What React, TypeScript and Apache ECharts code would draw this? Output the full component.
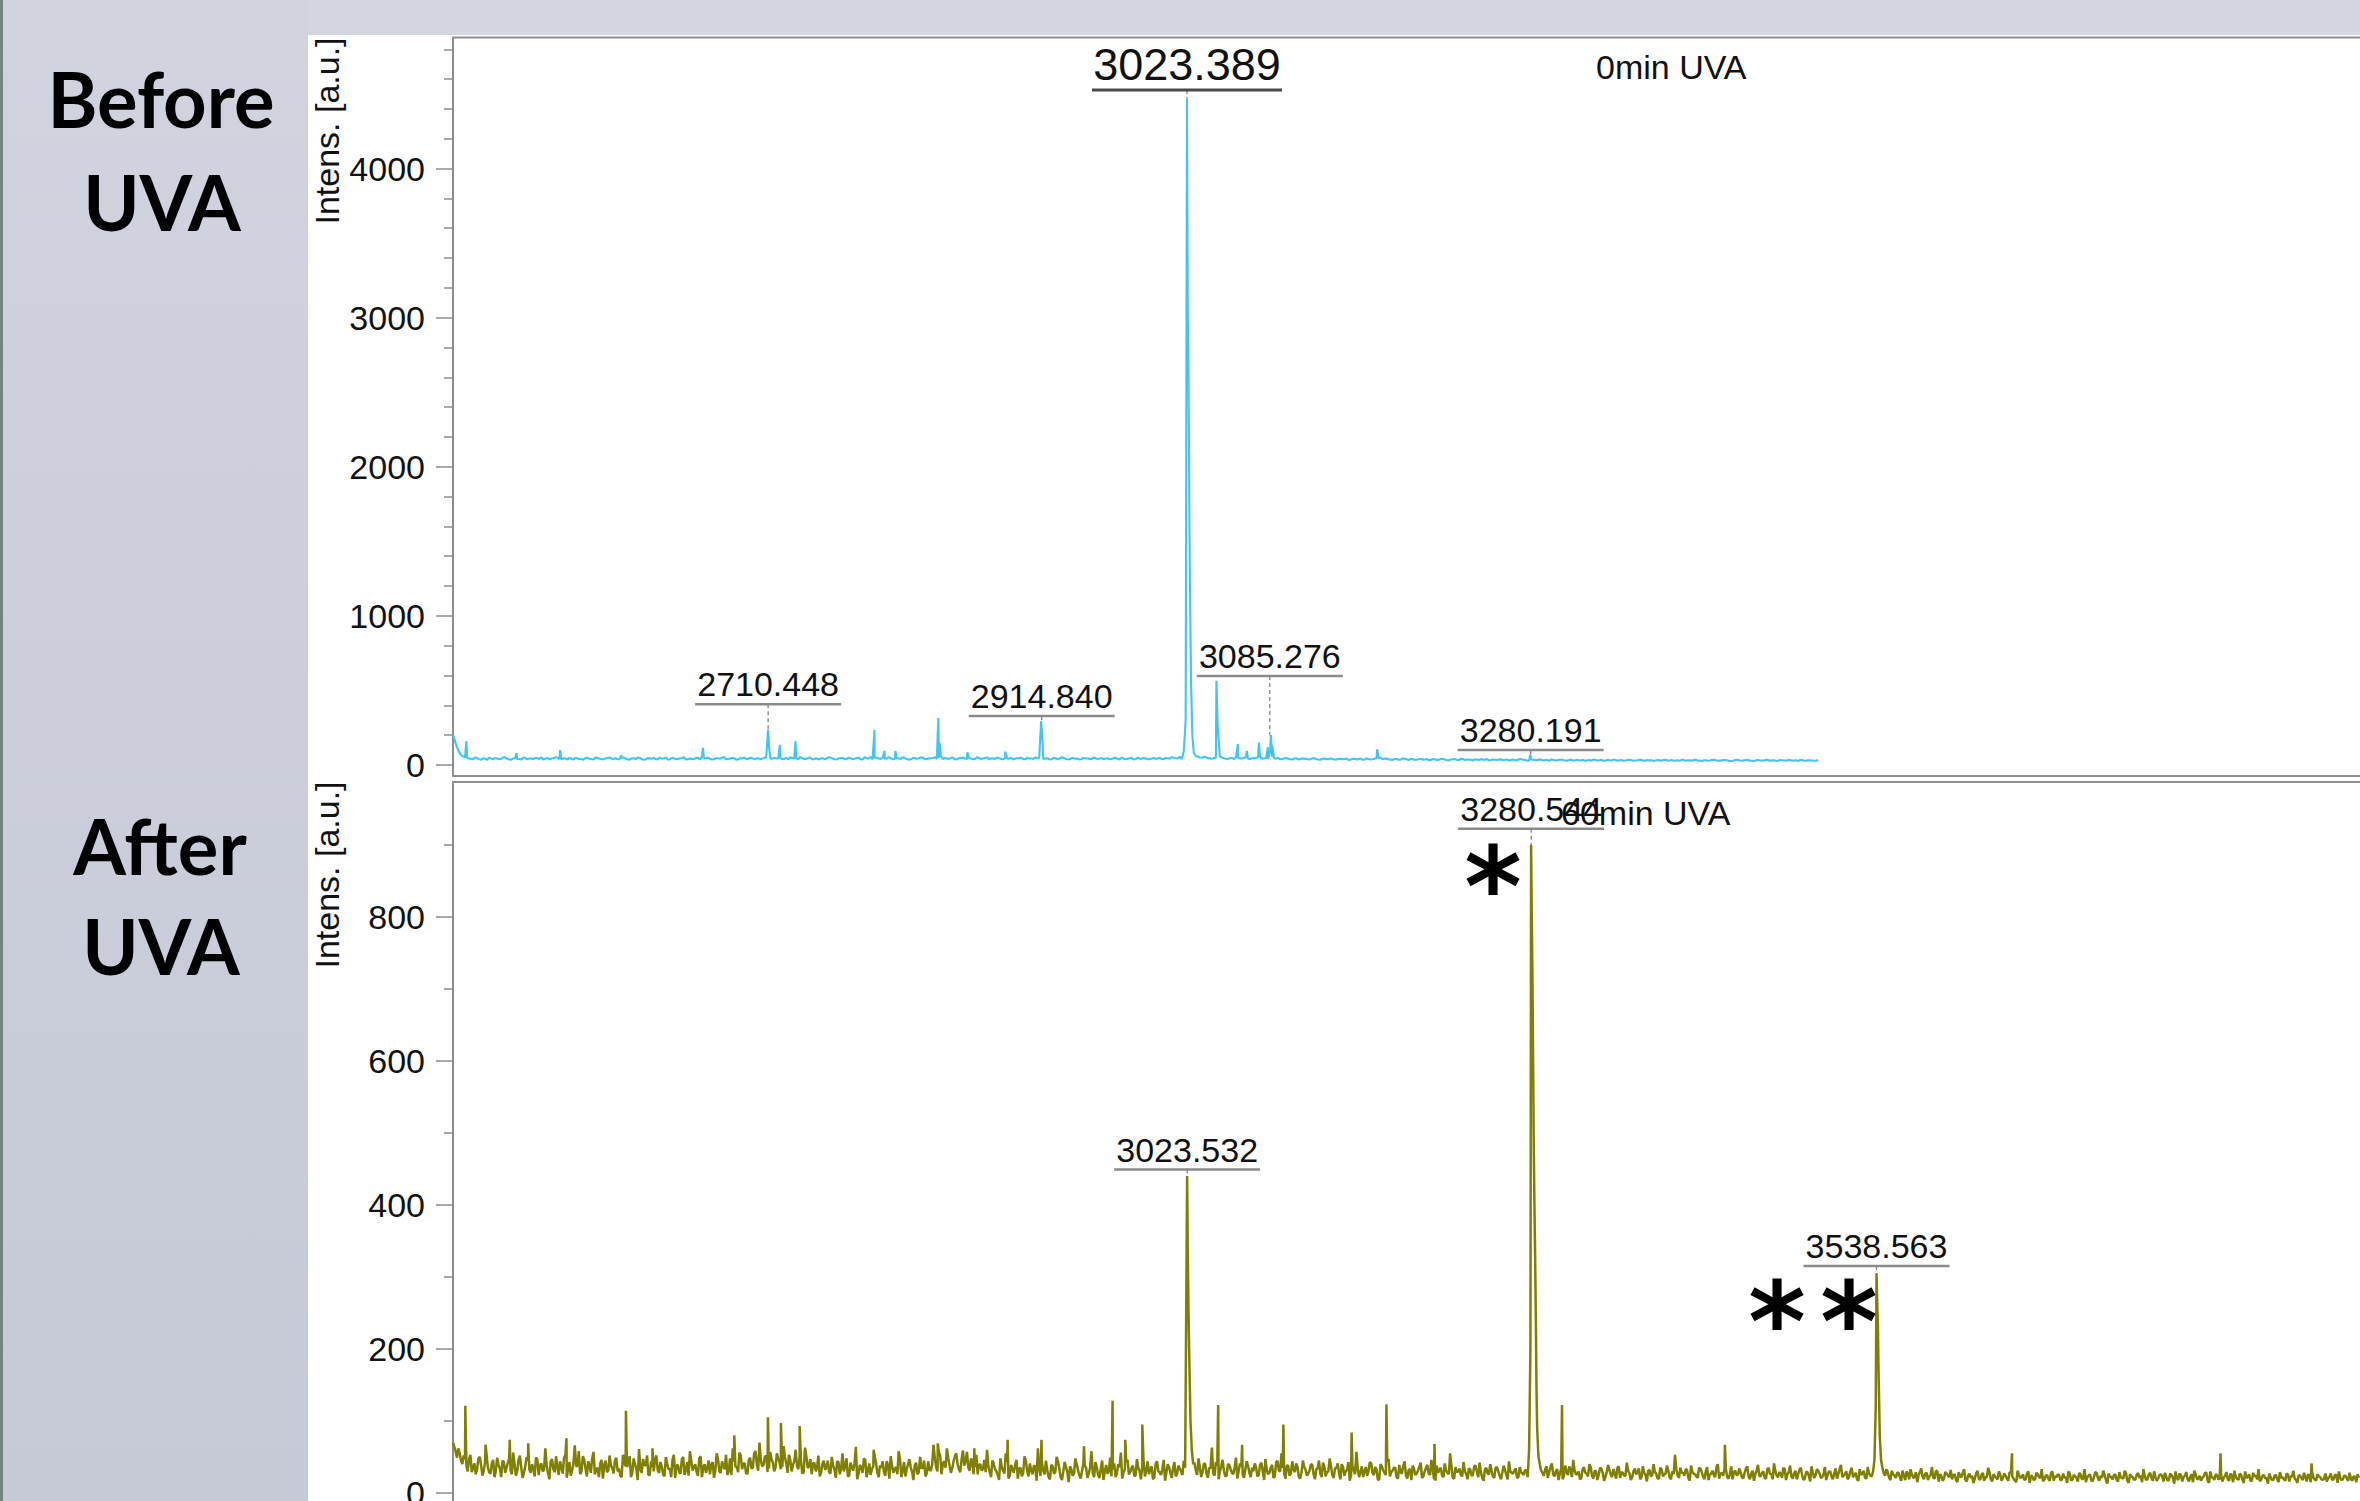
import React, { useEffect, useRef } from "react";
import * as echarts from "echarts";

// ---- m/z axis ----
const MZ_MIN = 2475;
const MZ_MAX = 4000;

// ---- Top spectrum (0 min UVA): two interleaved sample rows ----
const TOP_PROFILE_A_START = 2475;
const TOP_PROFILE_B_START = 2476.5;
const TOP_PROFILE_STEP = 3;
const TOP_PROFILE_A = [
  200,118,66,50,44,39,47,36,42,49,38,44,40,51,37,45,41,36,48,43,
  39,46,52,41,37,45,50,38,43,47,36,44,40,49,42,37,46,39,44,50,
  41,38,47,43,36,45,49,40,37,44,48,39,42,51,38,45,41,47,37,44,
  40,48,54,46,41,38,45,50,39,43,47,37,44,41,49,38,46,42,52,45,
  48,44,39,47,52,43,38,45,41,49,40,37,46,42,50,39,44,47,38,45,
  42,49,36,44,55,48,43,50,41,46,39,45,51,40,37,47,43,49,41,45,
  52,47,40,44,48,38,46,50,41,44,39,47,43,52,45,40,46,38,44,49,
  41,45,39,48,43,50,47,40,44,37,46,42,49,38,45,41,36,47,43,39,
  46,42,38,45,40,48,37,44,41,47,39,43,46,38,44,41,48,40,45,52,
  45,55,90,3000,350,60,50,55,46,42,48,58,45,40,47,52,44,49,42,46,
  48,52,45,40,55,43,38,44,41,36,45,39,42,37,44,40,35,43,38,41,
  36,42,39,34,41,37,44,35,40,38,45,50,42,37,34,40,36,42,33,39,
  35,41,37,32,39,34,40,36,31,38,35,41,33,37,30,36,39,34,31,37,
  33,38,35,30,36,32,39,34,29,35,31,37,33,28,35,31,36,30,34,29,
  35,31,27,33,37,30,34,28,32,36,29,33,30,35,28,32,34,29,31,27,
  33,29,35,30,27,32,36,28,31,34,29,26,32,30,35,28,31,33,27,30,
  34,28,32,29,26,33,30,35,28,31,27,32,29,34,30,27,33,29,31,28,32,
];
const TOP_PROFILE_B = [
  160,88,58,47,41,50,38,45,35,43,47,39,52,41,36,46,40,49,38,44,
  47,40,36,48,43,51,39,45,37,42,49,41,35,46,39,50,43,38,47,42,
  45,39,51,37,44,40,48,35,46,42,38,50,43,36,47,40,44,52,39,41,
  46,38,43,49,37,45,41,53,40,47,36,44,50,39,46,42,38,48,220,41,
  43,50,41,38,46,44,55,40,48,37,45,42,39,51,44,36,47,41,49,40,
  46,39,52,43,37,48,41,45,53,38,44,40,48,36,46,42,50,39,44,47,
  43,60,46,41,50,37,45,43,48,39,52,41,46,38,44,50,40,47,42,37,
  45,49,38,44,41,47,280,43,38,46,40,51,42,37,48,44,39,45,41,50,
  40,47,43,38,46,42,50,39,45,37,48,41,44,38,47,43,40,46,42,48,
  44,40,600,1300,80,57,48,52,44,47,230,50,42,46,39,48,43,51,40,45,
  50,41,47,90,44,47,40,46,39,43,37,44,41,38,45,36,42,39,44,37,
  40,38,43,35,42,39,36,44,37,41,47,39,44,36,40,35,43,38,41,35,
  38,36,40,34,38,35,41,33,37,39,32,40,36,35,38,33,37,40,33,35,
  36,31,37,34,32,38,35,30,37,33,36,29,34,37,31,35,33,29,36,32,
  30,34,32,29,35,31,28,34,30,33,31,28,34,32,30,35,29,33,31,30,
  31,33,29,34,30,28,33,31,29,35,30,32,28,34,31,29,33,30,27,33,
  30,31,34,28,32,30,29,33,31,28,34,30,32,29,31,33,28,31,30,29,
];
const TOP_PEAKS = [
  [2485, 160], [2522.4, 80], [2555, 100], [2600.8, 65], [2661.8, 115],
  [2710.4, 235], [2711.2, 120], [2719.2, 135], [2730.9, 160], [2789.9, 235],
  [2797.4, 95], [2805.6, 95], [2837.6, 315], [2838.6, 150], [2859.3, 85],
  [2887.6, 90], [2914.4, 295], [2915.4, 170], [3022.4, 300], [3023.4, 4470],
  [3024.4, 2780], [3025.4, 1420], [3026.4, 560], [3027.4, 200], [3045.4, 565],
  [3046.4, 250], [3061.4, 140], [3068.1, 95], [3077.1, 150], [3083.8, 120],
  [3086.1, 200], [3087.1, 130], [3165.5, 105], [3279.9, 70],
];
const TOP_Y_MIN = -74;
const TOP_Y_MAX = 4879;
const TOP_MAJOR_TICKS = [0, 1000, 2000, 3000, 4000];
const TOP_MINOR_TICKS = [200, 400, 600, 800, 1200, 1400, 1600, 1800, 2200, 2400, 2600, 2800, 3200, 3400, 3600, 3800, 4200, 4400, 4600, 4800];
const TOP_LABELS = [
  { text: "3023.389", mz: 3023.389, level: 4527, apex: 4470, big: true },
  { text: "2710.448", mz: 2710.448, level: 407, apex: 235, big: false },
  { text: "2914.840", mz: 2914.84, level: 329, apex: 295, big: false },
  { text: "3085.276", mz: 3085.276, level: 597, apex: 200, big: false },
  { text: "3280.191", mz: 3280.191, level: 100, apex: 70, big: false },
];

// ---- Bottom spectrum (60 min UVA): two interleaved sample rows ----
const BOT_PROFILE_A_START = 2475;
const BOT_PROFILE_B_START = 2476;
const BOT_PROFILE_STEP = 2;
const BOT_PROFILE_A = [
  70,58,62,45,52,38,47,29,41,33,50,24,44,36,27,46,31,39,22,43,
  35,48,26,40,30,52,21,37,45,28,34,49,25,41,32,38,19,47,29,36,
  44,27,53,33,24,42,37,58,30,46,23,39,48,26,35,41,20,45,31,38,
  27,49,34,22,43,36,51,29,40,18,33,47,38,25,44,30,52,28,37,23,
  41,34,46,21,39,27,50,32,24,45,36,29,48,22,40,35,26,43,31,47,
  28,38,53,30,25,44,37,56,33,41,27,49,35,58,31,45,39,52,34,47,
  30,55,42,36,50,28,46,39,60,33,44,29,51,37,26,42,35,23,40,32,
  45,27,38,21,43,34,30,48,24,36,41,19,39,28,46,31,25,37,42,22,
  35,29,44,20,38,33,26,47,31,23,40,36,18,42,29,34,45,27,32,39,
  48,30,52,41,35,49,28,44,55,33,47,38,57,31,43,36,26,40,34,29,
  37,22,41,30,18,36,27,43,24,33,39,20,35,28,45,23,31,38,17,34,
  42,26,32,19,37,29,44,22,30,36,15,33,27,40,24,31,38,21,35,28,
  43,25,34,18,39,30,23,41,27,36,20,33,46,29,38,24,35,19,42,31,
  26,37,22,44,29,33,17,40,28,35,23,38,30,45,300,200,60,42,25,36,
  29,40,21,34,27,43,19,37,31,24,39,28,35,20,41,26,33,38,22,30,
  36,25,42,18,32,28,39,23,45,30,35,20,38,27,33,41,22,29,36,24,
  31,39,19,34,27,42,23,30,37,21,35,28,40,24,32,17,38,26,33,29,
  22,36,30,41,25,33,19,37,28,44,23,31,35,20,29,38,24,32,18,34,
  27,36,21,30,39,25,33,17,28,35,22,31,26,37,20,29,34,23,30,19,
  33,25,38,22,29,17,35,26,31,21,36,24,28,32,19,30,27,34,22,29,
  25,31,60,800,400,90,40,28,33,21,36,26,30,18,34,24,29,37,22,31,
  26,19,33,28,23,36,20,30,25,34,17,29,32,22,27,35,21,28,24,31,
  18,30,26,34,22,28,16,32,25,29,20,35,23,27,31,19,26,33,21,28,
  24,32,17,29,26,21,34,23,30,18,27,25,36,20,28,33,22,26,19,31,
  25,29,20,34,23,27,17,31,24,28,21,33,26,19,30,22,27,35,18,29,
  23,27,19,32,25,20,29,16,28,24,31,21,26,18,30,23,27,20,33,22,
  26,19,30,22,28,17,25,31,20,27,23,45,270,80,35,24,29,18,26,21,
  28,17,24,30,19,26,22,15,29,23,27,18,25,21,31,16,24,20,27,22,
  19,26,15,23,28,18,24,21,14,27,20,25,17,22,29,16,23,19,26,21,
  24,17,28,20,15,25,22,18,27,14,23,19,26,21,16,24,20,28,17,22,
  25,18,21,14,27,19,23,16,26,20,15,24,18,22,28,17,21,25,13,23,
  19,26,16,22,20,27,14,23,18,25,21,15,24,19,28,17,22,20,26,16,
  23,18,25,13,21,27,16,24,19,22,15,26,20,17,23,28,14,21,18,25,
  20,16,24,19,27,15,22,18,25,14,21,26,17,23,19,16,24,20,13,22,
  18,25,15,21,19,27,16,23,20,14,24,18,22,26,15,21,17,23,19,20,
  16,22,18,25,14,21,19,24,17,20,23,15,21,
];
const BOT_PROFILE_B = [
  64,49,55,40,47,30,53,35,26,48,38,31,55,29,41,22,49,34,45,28,
  42,31,56,24,46,35,28,50,33,40,23,47,38,30,62,27,44,33,51,25,
  36,49,21,43,31,66,38,26,51,34,44,28,57,32,22,46,39,29,52,35,
  45,30,24,53,37,41,22,48,33,61,28,39,52,25,36,47,31,43,26,50,
  33,22,53,38,29,47,25,43,58,31,40,24,51,36,28,45,39,21,55,30,
  44,33,25,48,62,36,29,52,41,27,46,34,55,40,70,37,50,29,57,42,
  36,48,33,65,41,53,30,44,38,51,27,63,35,47,41,30,52,28,45,36,
  29,50,33,44,26,55,38,23,42,31,64,27,35,48,22,41,33,52,29,38,
  44,24,39,51,28,36,58,22,43,33,47,29,38,26,50,35,23,44,31,67,
  36,57,26,44,62,38,34,51,40,29,59,45,35,48,26,53,39,31,46,60,
  29,45,33,25,48,31,55,20,39,28,46,34,23,51,30,41,26,37,62,24,
  31,45,22,39,27,50,34,18,43,29,37,24,48,32,20,41,35,27,58,22,
  36,21,45,30,27,49,33,22,40,56,29,43,26,35,24,47,30,38,23,44,
  33,19,41,30,25,46,28,36,21,43,27,34,25,35,330,100,40,31,48,22,
  41,27,35,63,24,38,30,46,23,40,33,26,49,30,37,21,44,28,35,41,
  23,39,30,47,26,35,21,42,31,55,27,38,24,44,29,36,20,45,32,27,
  40,26,33,45,22,37,29,48,25,34,41,19,36,30,43,25,31,57,22,37,
  30,24,43,28,36,18,40,31,25,47,29,35,22,39,27,44,20,33,38,25,
  31,42,23,35,27,46,19,38,32,24,41,28,55,21,36,30,25,43,27,34,
  24,37,29,42,21,33,27,40,23,35,30,19,38,25,44,28,31,21,36,27,
  32,22,200,600,250,50,31,24,37,29,41,23,33,27,19,38,25,32,46,26,
  30,21,36,27,40,24,31,18,35,28,22,39,26,33,20,37,29,24,42,27,
  22,34,29,19,37,25,31,23,40,27,20,33,26,38,22,30,53,24,35,28,
  33,21,38,27,23,35,29,19,36,25,31,22,40,27,24,34,20,37,29,25,
  34,22,28,37,19,31,26,39,23,30,20,35,27,41,24,29,21,33,26,38,
  20,31,26,35,18,29,24,37,21,33,27,22,36,25,30,19,34,26,39,24,
  30,22,35,25,19,33,27,21,36,24,30,120,180,45,27,33,21,31,24,28,
  22,31,18,27,33,21,29,25,34,19,28,23,36,20,30,26,17,29,24,32,
  25,18,29,22,33,16,27,24,20,31,18,28,22,35,19,26,21,30,17,27,
  20,29,23,17,31,21,26,19,30,24,18,28,22,33,19,25,17,30,23,26,
  18,27,22,30,17,25,21,28,19,33,22,26,16,29,21,24,31,18,27,22,
  25,18,29,21,31,17,26,22,19,28,24,33,18,26,21,30,17,25,23,28,
  17,27,21,30,18,25,22,29,16,26,31,19,24,21,28,17,30,22,26,19,
  26,21,29,17,24,31,20,27,18,30,22,17,28,24,33,19,25,21,27,18,
  24,19,29,22,17,26,23,31,18,25,21,28,16,24,30,19,26,22,18,27,
  21,27,19,25,30,18,24,20,28,17,23,26,
];
const BOT_PEAKS = [
  [2484.2, 121], [2499.3, 67], [2517.4, 74], [2531.2, 69], [2559.8, 76],
  [2604.2, 114], [2624, 62], [2685.2, 80], [2710.3, 105], [2720, 97],
  [2734, 93], [2789.3, 60], [2837.2, 69], [2864.5, 62], [2889.4, 74],
  [2914.7, 74], [2946.4, 65], [2967.8, 128], [2977.3, 74], [2990, 95],
  [3023.5, 440], [3024.5, 255], [3025.5, 150], [3046.7, 122], [3064.6, 67],
  [3095.4, 95], [3146.4, 84], [3172.4, 123], [3208.3, 68], [3280.5, 900],
  [3281.5, 720], [3282.5, 480], [3283.5, 330], [3284.5, 150], [3303.6, 122],
  [3425.3, 67], [3538.6, 305], [3539.6, 235], [3540.6, 120], [3639.8, 55],
  [3795.6, 55], [3863.6, 41],
];
const BOT_Y_MIN = -30;
const BOT_Y_MAX = 987;
const BOT_MAJOR_TICKS = [0, 200, 400, 600, 800];
const BOT_MINOR_TICKS = [100, 300, 500, 700, 900];
const BOT_LABELS = [
  { text: "3023.532", mz: 3023.532, level: 449, apex: 440, big: false },
  { text: "3280.544", mz: 3280.544, level: 922, apex: 900, big: false },
  { text: "3538.563", mz: 3538.563, level: 315, apex: 305, big: false },
];

const W = 2360;
const H = 1501;
const SANS = '"Liberation Sans", Arial, sans-serif';
const AXIS_GRAY = "#8e8e8e";

function buildSpectrum(rows: [number, number, number[]][], peaks: number[][]) {
  const pts: number[][] = [];
  rows.forEach(([start, step, values]) => values.forEach((v, i) => pts.push([start + i * step, v])));
  peaks.forEach((p) => pts.push([p[0], p[1]]));
  pts.sort((a, b) => a[0] - b[0]);
  return pts;
}

function yAxes(gridIndex: number, min: number, max: number, major: number[], minor: number[]) {
  return [
    {
      type: "value", gridIndex, min, max, position: "left",
      axisLine: { show: false }, splitLine: { show: false },
      axisTick: { show: true, customValues: major, length: 17, lineStyle: { color: AXIS_GRAY, width: 1.5 } },
      axisLabel: {
        show: true, customValues: major, margin: 28, fontSize: 34, fontFamily: SANS, color: "#111",
        formatter: (v: number) => String(v),
      },
    },
    {
      type: "value", gridIndex, min, max, position: "left",
      axisLine: { show: false }, splitLine: { show: false },
      axisTick: { show: true, customValues: minor, length: 9, lineStyle: { color: AXIS_GRAY, width: 1.5 } },
      axisLabel: { show: false },
    },
  ];
}

function buildOption() {
  const gridBase = {
    left: 453, width: 2041.1, show: true, borderColor: AXIS_GRAY, borderWidth: 2,
    backgroundColor: "transparent", containLabel: false, outerBoundsMode: "none",
  };
  return {
    animation: false,
    backgroundColor: "#ffffff",
    grid: [
      { ...gridBase, top: 37.5, height: 738.5 },
      { ...gridBase, top: 782, height: 732.6 },
    ],
    xAxis: [
      { type: "value", gridIndex: 0, min: MZ_MIN, max: MZ_MAX, show: false },
      { type: "value", gridIndex: 1, min: MZ_MIN, max: MZ_MAX, show: false },
    ],
    yAxis: [
      ...yAxes(0, TOP_Y_MIN, TOP_Y_MAX, TOP_MAJOR_TICKS, TOP_MINOR_TICKS),
      ...yAxes(1, BOT_Y_MIN, BOT_Y_MAX, BOT_MAJOR_TICKS, BOT_MINOR_TICKS),
    ],
    series: [
      {
        type: "line", xAxisIndex: 0, yAxisIndex: 0, silent: true,
        data: buildSpectrum(
          [[TOP_PROFILE_A_START, TOP_PROFILE_STEP, TOP_PROFILE_A], [TOP_PROFILE_B_START, TOP_PROFILE_STEP, TOP_PROFILE_B]],
          TOP_PEAKS,
        ),
        showSymbol: false, symbol: "none",
        lineStyle: { color: "#40c4f4", width: 2.1 },
      },
      {
        type: "line", xAxisIndex: 1, yAxisIndex: 2, silent: true,
        data: buildSpectrum(
          [[BOT_PROFILE_A_START, BOT_PROFILE_STEP, BOT_PROFILE_A], [BOT_PROFILE_B_START, BOT_PROFILE_STEP, BOT_PROFILE_B]],
          BOT_PEAKS,
        ),
        showSymbol: false, symbol: "none",
        lineStyle: { color: "#808000", width: 2.5 },
      },
    ],
  };
}

function textEl(text: string, x: number, y: number, size: number, opts: any = {}) {
  return {
    type: "text", x, y, z: 100, silent: true,
    rotation: opts.rotation || 0,
    style: {
      text, fill: opts.fill || "#111",
      fontSize: size, fontFamily: opts.family || SANS, fontWeight: opts.weight || "normal",
      align: opts.align || "center", verticalAlign: "middle",
    },
  };
}

function lineEl(x1: number, y1: number, x2: number, y2: number, stroke: string, width: number, dash?: number[]) {
  return {
    type: "line", z: 90, silent: true,
    shape: { x1, y1, x2, y2 },
    style: { stroke, lineWidth: width, lineDash: dash || null },
  };
}

function buildGraphics(chart: any) {
  const els: any[] = [];
  els.push({ type: "rect", z: 1, silent: true, shape: { x: 0, y: 0, width: W, height: 35 }, style: { fill: "#d3d6df" } });
  els.push({
    type: "rect", z: 2, silent: true, shape: { x: 0, y: 0, width: 308, height: H },
    style: { fill: new echarts.graphic.LinearGradient(0, 0, 0, 1, [
      { offset: 0, color: "#d1d4df" }, { offset: 1, color: "#c6c9d6" },
    ]) },
  });
  els.push({ type: "rect", z: 3, silent: true, shape: { x: 0, y: 0, width: 3, height: H }, style: { fill: "#74867a" } });

  const bold = { family: '"Lato", "Open Sans", sans-serif', weight: "bold", fill: "#000" };
  els.push(textEl("Before", 161, 98, 76, bold));
  els.push(textEl("UVA", 162, 201, 76, bold));
  els.push(textEl("After", 160, 845, 76, bold));
  els.push(textEl("UVA", 161, 945, 76, bold));

  els.push(textEl("Intens. [a.u.]", 327, 131, 34, { rotation: Math.PI / 2 }));
  els.push(textEl("Intens. [a.u.]", 327, 875, 34, { rotation: Math.PI / 2 }));

  els.push(textEl("0min UVA", 1596, 67, 34, { align: "left" }));
  els.push(textEl("60min UVA", 1561, 813, 34, { align: "left" }));

  const addLabels = (seriesIndex: number, labels: any[]) => {
    labels.forEach((L) => {
      const u = chart.convertToPixel({ seriesIndex }, [L.mz, L.level]);
      const a = chart.convertToPixel({ seriesIndex }, [L.mz, L.apex]);
      const half = L.big ? 95 : 73;
      if (a[1] > u[1] + 2) els.push(lineEl(u[0], u[1], u[0], a[1], "#7a7a7a", 1.2, [4, 3]));
      els.push(lineEl(u[0] - half, u[1], u[0] + half, u[1], L.big ? "#4a4a4a" : "#8a8a8a", L.big ? 3 : 2.5));
      els.push(textEl(L.text, u[0], u[1] - (L.big ? 25 : 20), L.big ? 45 : 34, { fill: "#111" }));
    });
  };
  addLabels(0, TOP_LABELS);
  addLabels(1, BOT_LABELS);

  const star = { family: '"DejaVu Sans", sans-serif', weight: "bold", fill: "#000" };
  els.push(textEl("*", 1493, 888, 110, star));
  els.push(textEl("*", 1777, 1323, 110, star));
  els.push(textEl("*", 1849, 1323, 110, star));
  return els;
}

export default function App() {
  const ref = useRef<HTMLDivElement>(null);
  useEffect(() => {
    if (!ref.current) return;
    const chart = echarts.init(ref.current, null, { renderer: "svg", width: W, height: H });
    chart.setOption(buildOption() as any);
    chart.setOption({ graphic: buildGraphics(chart) } as any);
    return () => chart.dispose();
  }, []);
  return (
    <div style={{ position: "fixed", left: 0, top: 0, width: W, height: H, overflow: "hidden", background: "#fff" }}>
      <div ref={ref} style={{ width: W, height: H }} />
    </div>
  );
}
